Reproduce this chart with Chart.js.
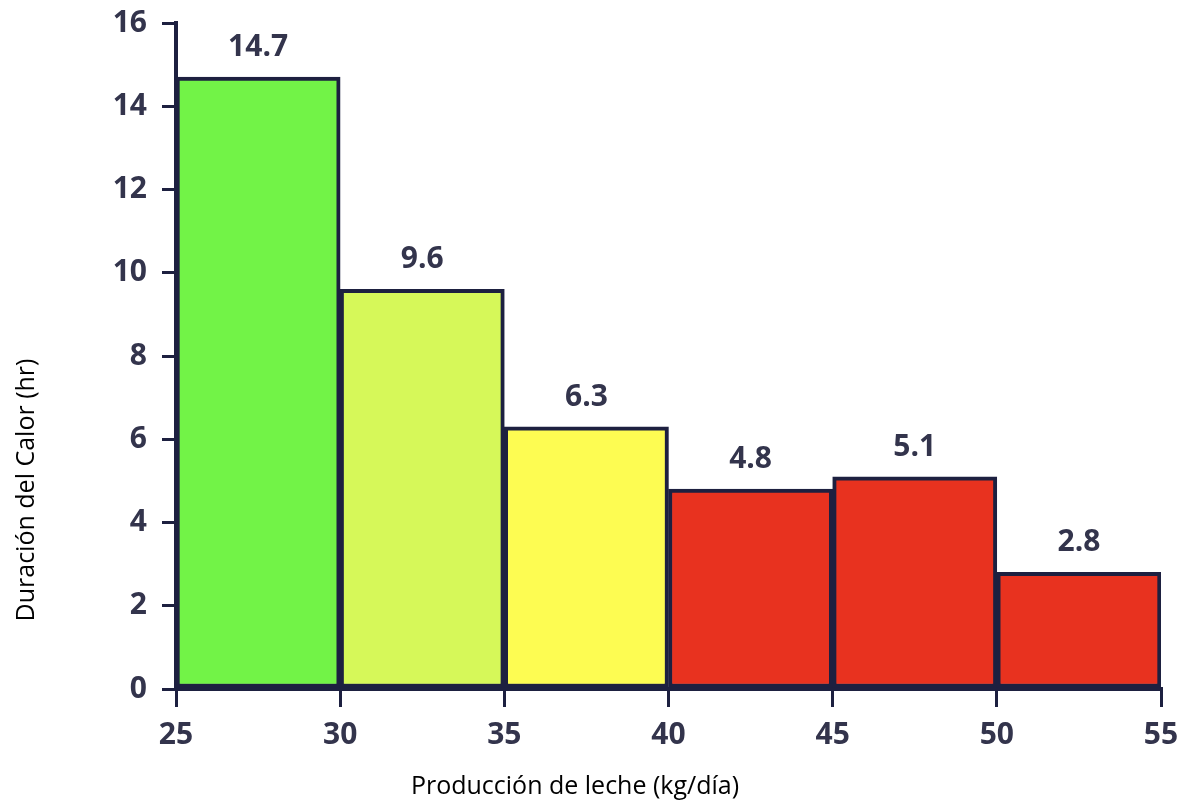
<!DOCTYPE html>
<html>
<head>
<meta charset="utf-8">
<script src="https://cdn.jsdelivr.net/npm/chart.js@4"></script>
<style>
  html, body { margin: 0; padding: 0; background: #ffffff; }
  #wrap { position: relative; width: 1189px; height: 801px; }
  canvas { display: block; }
</style>
</head>
<body>
<div id="wrap"><canvas id="chart" width="1189" height="801"></canvas></div>
<script>
// Milk-production classes (kg/day): lower and upper bounds of each bin
const binStarts = [25, 30, 35, 40, 45, 50];
const binEnds   = [30, 35, 40, 45, 50, 55];
// Heat duration (hr) per class
const heatHours = [14.7, 9.6, 6.3, 4.8, 5.1, 2.8];
const barColors = ['#72f347', '#d6f859', '#fdfc52', '#e8321f', '#e8321f', '#e8321f'];
const xTicks = [25, 30, 35, 40, 45, 50, 55];
const yTicks = [0, 2, 4, 6, 8, 10, 12, 14, 16];

const xTitle = 'Producción de leche (kg/día)';
const yTitle = 'Duración del Calor (hr)';

const inkDark = '#1d2040';
const tickInk = '#33344c';
const boldFont = { family: '"Open Sans"', weight: 'bold', size: 30 };

// Value labels above every bar
const valueLabels = {
  id: 'valueLabels',
  afterDatasetsDraw(chart) {
    const { ctx } = chart;
    const meta = chart.getDatasetMeta(0);
    ctx.save();
    ctx.font = 'bold 30px "Open Sans"';
    ctx.fillStyle = tickInk;
    ctx.textAlign = 'center';
    ctx.textBaseline = 'alphabetic';
    meta.data.forEach((bar, i) => {
      ctx.fillText(heatHours[i].toFixed(1), bar.x, bar.y - 21);
    });
    ctx.restore();
  }
};

// Axis titles placed relative to the page
const axisTitles = {
  id: 'axisTitles',
  afterDraw(chart) {
    const { ctx } = chart;
    ctx.save();
    ctx.font = '25px "Open Sans"';
    ctx.fillStyle = '#000000';
    ctx.textAlign = 'center';
    ctx.textBaseline = 'middle';
    ctx.fillText(xTitle, 575, 787);
    ctx.translate(27, 490);
    ctx.rotate(-Math.PI / 2);
    ctx.fillText(yTitle, 0, 0);
    ctx.restore();
  }
};

const ctx = document.getElementById('chart').getContext('2d');
new Chart(ctx, {
  type: 'bar',
  data: {
    datasets: [{
      data: binStarts.map((s, i) => ({ x: (s + binEnds[i]) / 2, y: heatHours[i] })),
      backgroundColor: barColors,
      borderColor: inkDark,
      borderWidth: 4,
      borderSkipped: false,
      barPercentage: 1,
      categoryPercentage: 1
    }]
  },
  options: {
    responsive: false,
    animation: false,
    layout: { padding: { top: 23, right: 28, bottom: 0, left: 0 } },
    plugins: {
      legend: { display: false },
      tooltip: { enabled: false },
      title: { display: false }
    },
    scales: {
      x: {
        type: 'linear',
        offset: false,
        min: 25,
        max: 55,
        afterBuildTicks(scale) { scale.ticks = xTicks.map(v => ({ value: v })); },
        afterFit(scale) {
          scale.height = 801 - 689;
          scale.paddingLeft = 0;
          scale.paddingRight = 0;
        },
        grid: {
          offset: false,
          drawOnChartArea: false,
          drawTicks: true,
          tickLength: 18,
          color: inkDark,
          lineWidth: 3
        },
        border: { display: true, color: inkDark, width: 4 },
        ticks: {
          color: tickInk,
          font: boldFont,
          padding: 10,
          maxRotation: 0
        }
      },
      y: {
        min: 0,
        max: 16,
        afterBuildTicks(scale) { scale.ticks = yTicks.map(v => ({ value: v })); },
        afterFit(scale) {
          scale.width = 176;
          scale.paddingTop = 0;
          scale.paddingBottom = 0;
        },
        grid: {
          offset: false,
          drawOnChartArea: false,
          drawTicks: true,
          tickLength: 14,
          color: inkDark,
          lineWidth: 3
        },
        border: { display: true, color: inkDark, width: 4 },
        ticks: {
          color: tickInk,
          font: boldFont,
          padding: 15
        }
      }
    }
  },
  plugins: [valueLabels, axisTitles]
});
</script>
</body>
</html>
